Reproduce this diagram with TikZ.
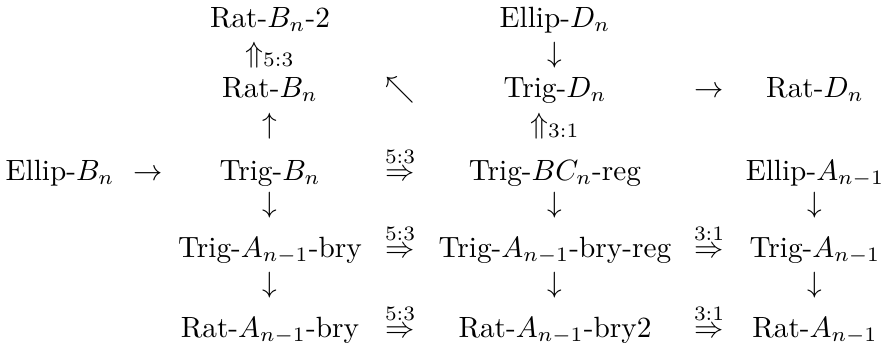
\documentclass[tikz,border=0pt]{standalone}
\usepackage{amsmath}
\tikzset{
  lbl/.style={anchor=base, inner sep=0pt, outer sep=0pt},
}
\begin{document}
\begin{tikzpicture}[x=0.3413pt, y=-0.3413pt]
\useasboundingbox (0,0) rectangle (881,350);
% row 1
\node[lbl] (ratBtwo) at (270,27) {Rat-$B_n$-2};
\node[lbl] (ellD) at (555,27) {Ellip-$D_n$};
% arrow row 1
\node[lbl] (upFiveThree) at (270,62) {$\Uparrow_{5:3}$};
\node[lbl] (dnED) at (555,62) {$\downarrow$};
% row 2
\node[lbl] (ratB) at (270,97) {Rat-$B_n$};
\node[lbl] (nwArr) at (400,97) {$\nwarrow$};
\node[lbl] (trigD) at (555,97) {Trig-$D_n$};
\node[lbl] (rtD) at (709,97) {$\rightarrow$};
\node[lbl] (ratD) at (815,97) {Rat-$D_n$};
% arrow row 2
\node[lbl] (upB) at (270,133) {$\uparrow$};
\node[lbl] (upThreeOne) at (555,133) {$\Uparrow_{3:1}$};
% row 3
\node[lbl] (ellB) at (60,180) {Ellip-$B_n$};
\node[lbl] (rtB) at (148,180) {$\rightarrow$};
\node[lbl] (trigB) at (270,180) {Trig-$B_n$};
\node[lbl] (imA) at (400,180) {$\stackrel{5:3}{\Rightarrow}$};
\node[lbl] (trigBC) at (555,180) {Trig-$BC_n$-reg};
\node[lbl] (ellA) at (815,180) {Ellip-$A_{n-1}$};
% arrow row 3
\node[lbl] (dnBa) at (270,212) {$\downarrow$};
\node[lbl] (dnDa) at (555,212) {$\downarrow$};
\node[lbl] (dnFa) at (815,212) {$\downarrow$};
% row 4
\node[lbl] (trigAbry) at (270,257) {Trig-$A_{n-1}$-bry};
\node[lbl] (imB) at (400,257) {$\stackrel{5:3}{\Rightarrow}$};
\node[lbl] (trigAbryreg) at (555,257) {Trig-$A_{n-1}$-bry-reg};
\node[lbl] (imC) at (709,257) {$\stackrel{3:1}{\Rightarrow}$};
\node[lbl] (trigA) at (815,257) {Trig-$A_{n-1}$};
% arrow row 4
\node[lbl] (dnBb) at (270,292) {$\downarrow$};
\node[lbl] (dnDb) at (555,292) {$\downarrow$};
\node[lbl] (dnFb) at (815,292) {$\downarrow$};
% row 5
\node[lbl] (ratAbry) at (270,337) {Rat-$A_{n-1}$-bry};
\node[lbl] (imD) at (400,337) {$\stackrel{5:3}{\Rightarrow}$};
\node[lbl] (ratAbrytwo) at (555,337) {Rat-$A_{n-1}$-bry2};
\node[lbl] (imE) at (709,337) {$\stackrel{3:1}{\Rightarrow}$};
\node[lbl] (ratA) at (815,337) {Rat-$A_{n-1}$};
\end{tikzpicture}
\end{document}
